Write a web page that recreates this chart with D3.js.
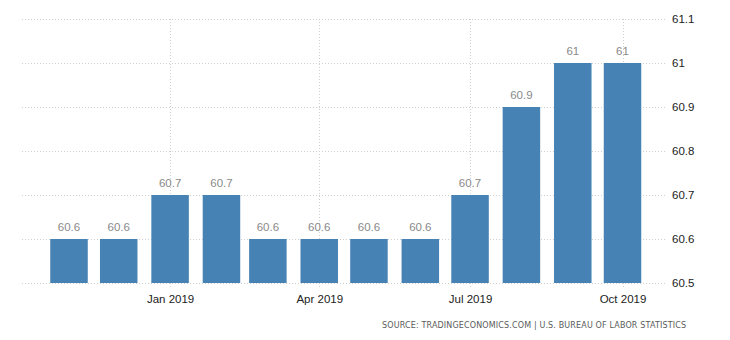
<!DOCTYPE html>
<html>
<head>
<meta charset="utf-8">
<script src="https://cdn.jsdelivr.net/npm/d3@7"></script>
<style>
  html, body { margin: 0; padding: 0; background: #fff; }
  svg { display: block; }
  text { font-family: "Liberation Sans", Arial, sans-serif; }
</style>
</head>
<body>
<svg id="chart" width="730" height="340"></svg>
<script>
// Monthly participation rate, Nov 2018 - Oct 2019 (%)
const months = ["2018-11-01", "2018-12-01", "2019-01-01", "2019-02-01", "2019-03-01", "2019-04-01",
                "2019-05-01", "2019-06-01", "2019-07-01", "2019-08-01", "2019-09-01", "2019-10-01"];
const values = [60.6, 60.6, 60.7, 60.7, 60.6, 60.6, 60.6, 60.6, 60.7, 60.9, 61.0, 61.0];
const yTicks = [60.5, 60.6, 60.7, 60.8, 60.9, 61.0, 61.1];
const xTicks = ["2019-01-01", "2019-04-01", "2019-07-01", "2019-10-01"];
const sourceText = "SOURCE: TRADINGECONOMICS.COM  |  U.S. BUREAU OF LABOR STATISTICS";

const parse = d3.utcParse("%Y-%m-%d");
const dates = months.map(parse);
const tickDates = xTicks.map(parse);

const svg = d3.select("#chart");
const plotLeft = 22, plotRight = 666, plotTop = 19, plotBottom = 283;

const x = d3.scaleUtc()
  .domain([parse("2018-11-01"), parse("2019-10-01")])
  .range([69, 622.5]);

const y = d3.scaleLinear()
  .domain([60.5, 61.1])
  .range([plotBottom, plotTop]);

const barW = 37.5;
const grid = "#cfcfcf";

// horizontal grid lines
svg.append("g").selectAll("line")
  .data(yTicks).join("line")
  .attr("x1", plotLeft).attr("x2", plotRight)
  .attr("y1", d => Math.round(y(d)) + 0.5).attr("y2", d => Math.round(y(d)) + 0.5)
  .attr("stroke", grid).attr("stroke-width", 1).attr("stroke-dasharray", "1,2");

// vertical grid lines at quarter ticks
svg.append("g").selectAll("line")
  .data(tickDates).join("line")
  .attr("x1", d => Math.round(x(d)) + 0.5).attr("x2", d => Math.round(x(d)) + 0.5)
  .attr("y1", plotTop).attr("y2", plotBottom + 4)
  .attr("stroke", grid).attr("stroke-width", 1).attr("stroke-dasharray", "1,2");

// bars
svg.append("g").selectAll("rect")
  .data(values).join("rect")
  .attr("x", (d, i) => x(dates[i]) - barW / 2)
  .attr("width", barW)
  .attr("y", d => y(d))
  .attr("height", d => y(60.5) - y(d))
  .attr("fill", "#4682b4");

// value labels
svg.append("g").selectAll("text")
  .data(values).join("text")
  .attr("x", (d, i) => x(dates[i]))
  .attr("y", d => y(d) - 8)
  .attr("text-anchor", "middle")
  .attr("font-size", 11.5)
  .attr("fill", "#8a8a8a")
  .text(d => d3.format("")(+d.toFixed(1)));

// right-hand value axis
const yAxis = d3.axisRight(y).tickValues(yTicks).tickSize(0).tickPadding(0)
  .tickFormat(d => d3.format("")(+d.toFixed(1)));
const ya = svg.append("g").attr("transform", `translate(${plotRight + 6},0)`).call(yAxis);
ya.select(".domain").remove();
ya.selectAll("text").attr("font-size", 11.5).attr("fill", "#222")
  .style("font-family", '"Liberation Sans", Arial, sans-serif');

// bottom time axis
const xAxis = d3.axisBottom(x).tickValues(tickDates).tickSize(0).tickPadding(0)
  .tickFormat(d3.utcFormat("%b %Y"));
const xa = svg.append("g").attr("transform", `translate(0,${plotBottom + 12})`).call(xAxis);
xa.select(".domain").remove();
xa.selectAll("text").attr("font-size", 11.5).attr("fill", "#222")
  .style("font-family", '"Liberation Sans", Arial, sans-serif');

// source line
svg.append("text")
  .attr("x", 382).attr("y", 328)
  .attr("font-size", 8)
  .attr("fill", "#5a5a5a")
  .style("font-family", '"DejaVu Sans", sans-serif')
  .attr("textLength", 304)
  .attr("lengthAdjust", "spacing")
  .text(sourceText);
</script>
</body>
</html>
